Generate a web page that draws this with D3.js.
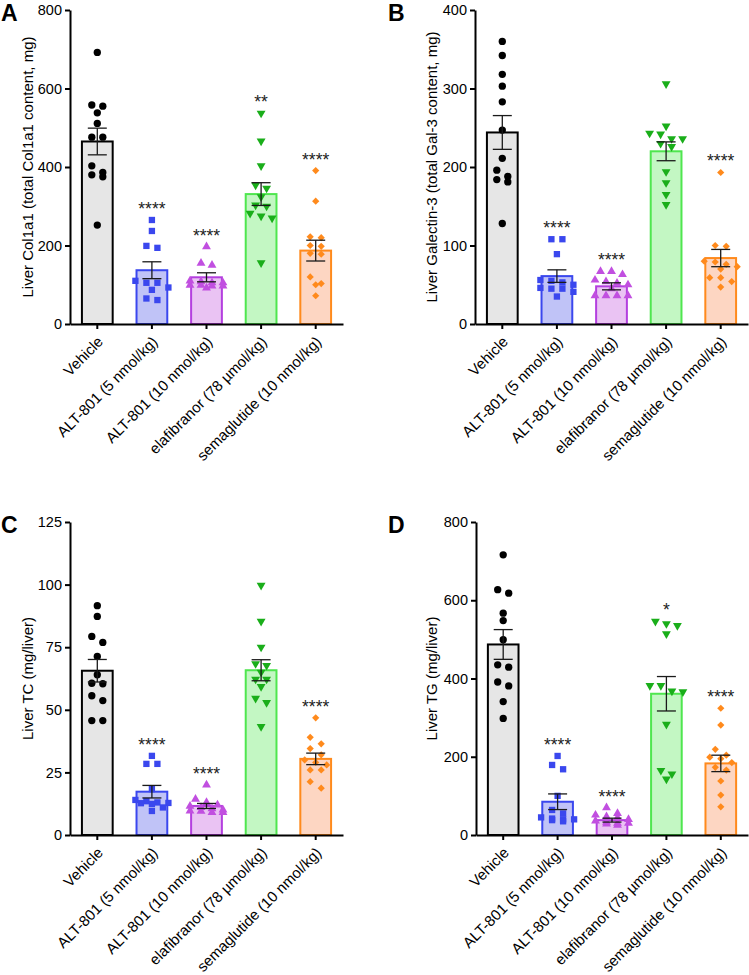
<!DOCTYPE html>
<html>
<head>
  <meta charset="utf-8">
  <title>Liver endpoints</title>
  <script src="https://d3js.org/d3.v7.min.js"></script>
  <style>
    body { margin: 0; background: #fff; }
    text { font-family: "Liberation Sans", Arial, sans-serif; }
  </style>
</head>
<body>
<svg id="fig" width="749" height="975"></svg>
<script>
// groups on the x axis
const groups = ["Vehicle", "ALT-801 (5 nmol/kg)", "ALT-801 (10 nmol/kg)",
                "elafibranor (78 \u00b5mol/kg)", "semaglutide (10 nmol/kg)"];

// A - Col1a1
const col1a1Ticks = [0, 200, 400, 600, 800];
const col1a1Mean = [465, 137, 119, 331, 187];
const col1a1Sem = [34, 21.5, 11.5, 29, 26.5];
const col1a1Stars = ["", "****", "****", "**", "****"];
const col1a1Points = [
  [692, 555, 558, 538, 511, 476, 476, 403, 386, 375, 380, 252],
  [265, 237, 194, 199, 110, 105, 105, 87, 93, 61, 65],
  [197, 155, 150, 108, 105, 105, 99, 97, 97, 99, 92, 110],
  [537, 466, 403, 346, 354, 324, 303, 300, 282, 275, 270, 156],
  [391, 313, 222, 220, 200, 198, 180, 178, 103, 100, 120, 72]
];

// B - Galectin-3
const gal3Ticks = [0, 100, 200, 300, 400];
const gal3Mean = [244, 61, 48, 220, 84];
const gal3Sem = [21.5, 8, 4.5, 12, 11];
const gal3Stars = ["", "****", "****", "", "****"];
const gal3Points = [
  [360, 342, 318, 303, 283, 247, 211, 188, 196, 181, 184, 128],
  [108, 108, 89, 56, 53, 55, 45, 45, 41, 46, 35, 50],
  [67, 67, 63, 56, 54, 52, 50, 36, 36, 36, 36, 45],
  [306, 252, 242, 243, 236, 236, 226, 230, 194, 180, 165, 152],
  [193, 100, 99, 80, 79, 76, 73, 70, 59, 59, 54, 47]
];

// C - total cholesterol
const tcTicks = [0, 25, 50, 75, 100, 125];
const tcMean = [65.6, 17.3, 11.6, 65.8, 30.4];
const tcSem = [4.5, 2.5, 1.0, 4.2, 2.3];
const tcStars = ["", "****", "****", "", "****"];
const tcPoints = [
  [91.6, 87.3, 79.3, 76.9, 71.3, 64, 60.4, 60.6, 53.7, 55.6, 45.7, 45.7],
  [31.6, 28.4, 28.4, 18.3, 13, 12.7, 13.5, 12.4, 11, 9.6, 12.8, 14],
  [20, 14.3, 13, 12, 11.5, 11, 10.5, 10, 9.6, 9.5, 9, 9],
  [99.7, 85.3, 75, 68.4, 67.7, 65, 62.2, 62.2, 59.3, 54.6, 52.9, 43.3],
  [46.8, 39, 34.5, 36.4, 32, 30, 29, 28, 26, 26, 21.3, 18.7]
];

// D - triglycerides
const tgTicks = [0, 200, 400, 600, 800];
const tgMean = [487, 85, 38, 361, 183];
const tgSem = [38, 20, 5, 44, 21];
const tgStars = ["", "****", "****", "*", "****"];
const tgPoints = [
  [716, 618, 627, 567, 548, 499, 429, 435, 381, 391, 341, 298],
  [202, 179, 168, 100, 64, 55, 40, 42, 38, 40, 35, 45],
  [70, 55, 51, 47, 44, 40, 36, 33, 30, 30, 28, 25],
  [546, 540, 535, 514, 368, 366, 382, 382, 283, 165, 143, 156],
  [324, 281, 219, 199, 204, 195, 185, 173, 166, 138, 102, 72]
];

// styling per group
const barFill   = ["#e6e6e6", "#c0c3f7", "#eac3f3", "#c3f7c3", "#fdd6c2"];
const barStroke = ["#000000", "#3a47ee", "#b43fdf", "#4fe64f", "#ff8a1c"];
const dotColor  = ["#000000", "#3a47ee", "#c14fe0", "#1aae1a", "#ff8a1c"];
const symbols = [
  d3.symbol().type(d3.symbolCircle).size(42),
  d3.symbol().type(d3.symbolSquare).size(40),
  d3.symbol().type(d3.symbolTriangle).size(34),
  d3.symbol().type(d3.symbolTriangle).size(34),
  d3.symbol().type(d3.symbolSquare).size(26)
];
const symRot = [0, 0, 0, 180, 45];

const panels = [
  { letter: "A", title: "Liver Col1a1 (total Col1a1 content, mg)", ticks: col1a1Ticks,
    mean: col1a1Mean, sem: col1a1Sem, stars: col1a1Stars, points: col1a1Points,
    left: 70, right: 343, top: 10, bottom: 324, lx: 1, ly: 21, tx: 33 },
  { letter: "B", title: "Liver Galectin-3 (total Gal-3 content, mg)", ticks: gal3Ticks,
    mean: gal3Mean, sem: gal3Sem, stars: gal3Stars, points: gal3Points,
    left: 475, right: 748, top: 10, bottom: 324, lx: 388, ly: 21, tx: 437 },
  { letter: "C", title: "Liver TC (mg/liver)", ticks: tcTicks,
    mean: tcMean, sem: tcSem, stars: tcStars, points: tcPoints,
    left: 70, right: 343, top: 522, bottom: 835, lx: 1, ly: 533, tx: 33 },
  { letter: "D", title: "Liver TG (mg/liver)", ticks: tgTicks,
    mean: tgMean, sem: tgSem, stars: tgStars, points: tgPoints,
    left: 476, right: 748, top: 522, bottom: 835, lx: 388, ly: 533, tx: 437 }
];

const svg = d3.select("#fig");

// GraphPad-like horizontal spreading of points with close values
function spread(vals, y, step, thresh, maxRow) {
  const pts = vals.map(v => ({ v: v, py: y(v), dx: 0 }))
                  .sort((a, b) => a.py - b.py);
  const rows = [];
  pts.forEach(p => {
    const row = rows[rows.length - 1];
    if (row && Math.abs(p.py - row[0].py) < thresh && row.length < maxRow) row.push(p);
    else rows.push([p]);
  });
  rows.forEach(row => {
    row.forEach((p, j) => { p.dx = (j - (row.length - 1) / 2) * step; });
  });
  return pts;
}

panels.forEach(p => {
  const g = svg.append("g");
  const x = d3.scaleBand().domain(groups).range([p.left, p.right])
              .paddingInner(0.4).paddingOuter(0.2);
  const y = d3.scaleLinear()
              .domain([0, p.ticks[p.ticks.length - 1]])
              .range([p.bottom, p.top]);
  const bw = x.bandwidth();

  // bars
  g.selectAll("rect.bar").data(groups).enter().append("rect")
    .attr("x", d => x(d) + 1)
    .attr("y", (d, i) => y(p.mean[i]))
    .attr("width", bw - 2)
    .attr("height", (d, i) => p.bottom - y(p.mean[i]))
    .attr("fill", (d, i) => barFill[i])
    .attr("stroke", (d, i) => barStroke[i])
    .attr("stroke-width", 2);

  // points
  groups.forEach((grp, i) => {
    const cx = x(grp) + bw / 2;
    const pts = spread(p.points[i], y, 11, 7, 4);
    g.selectAll(null).data(pts).enter().append("path")
      .attr("d", symbols[i])
      .attr("transform", d => `translate(${cx + d.dx},${d.py}) rotate(${symRot[i]})`)
      .attr("fill", dotColor[i]);

    // SEM error bar
    const eb = g.append("g").attr("stroke", "#1a1a1a").attr("stroke-width", 1.3);
    const yHi = y(p.mean[i] + p.sem[i]), yLo = y(p.mean[i] - p.sem[i]);
    eb.append("line").attr("x1", cx).attr("x2", cx).attr("y1", yHi).attr("y2", yLo);
    eb.append("line").attr("x1", cx - 9.5).attr("x2", cx + 9.5).attr("y1", yHi).attr("y2", yHi);
    eb.append("line").attr("x1", cx - 9.5).attr("x2", cx + 9.5).attr("y1", yLo).attr("y2", yLo);

    // significance stars
    if (p.stars[i]) {
      g.append("text")
        .attr("x", cx)
        .attr("y", y(d3.max(p.points[i])) - 5)
        .attr("text-anchor", "middle")
        .attr("font-size", 17.5)
        .attr("fill", "#222")
        .text(p.stars[i]);
    }
  });

  // axes
  const yAxis = g.append("g")
    .attr("transform", `translate(${p.left},0)`)
    .call(d3.axisLeft(y).tickValues(p.ticks).tickSize(5).tickSizeOuter(0));
  const xAxis = g.append("g")
    .attr("transform", `translate(0,${p.bottom})`)
    .call(d3.axisBottom(x).tickSize(5).tickSizeOuter(0));
  [yAxis, xAxis].forEach(a => {
    a.selectAll("path, line").attr("stroke", "#000").attr("stroke-width", 2);
    a.selectAll("text").attr("font-size", 14.5).attr("fill", "#000")
      .attr("font-family", "'Liberation Sans', Arial, sans-serif");
  });
  xAxis.selectAll("text")
    .attr("font-size", 15)
    .attr("text-anchor", "end")
    .attr("dy", "0.35em")
    .attr("y", 0)
    .attr("transform", "translate(3,15) rotate(-45)");

  // axis title
  g.append("text")
    .attr("transform", `translate(${p.tx},${(p.top + p.bottom) / 2}) rotate(-90)`)
    .attr("text-anchor", "middle")
    .attr("font-size", 15)
    .text(p.title);

  // panel letter
  g.append("text")
    .attr("x", p.lx).attr("y", p.ly)
    .attr("font-size", 23).attr("font-weight", "bold")
    .text(p.letter);
});
</script>
</body>
</html>
